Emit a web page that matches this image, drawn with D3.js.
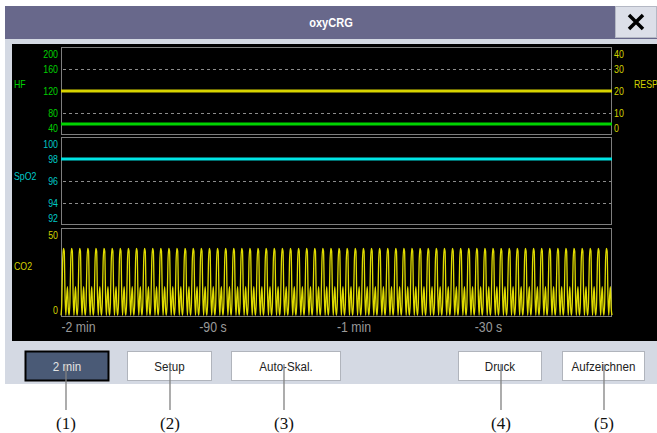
<!DOCTYPE html>
<html>
<head>
<meta charset="utf-8">
<script src="https://cdn.jsdelivr.net/npm/d3@7"></script>
<style>
  html, body { margin: 0; padding: 0; background: #fff; }
  svg { display: block; }
</style>
</head>
<body>
<svg id="oxycrg"></svg>
<script>
// trend samples (seconds before now)
const trendTimes = [-120, -90, -60, -30, 0];
const hfValues = [60, 60, 60, 60, 60];
const respValues = [20, 20, 20, 20, 20];
const spo2Values = [98, 98, 98, 98, 98];

// tick labels
const hfTicks = [40, 80, 120, 160, 200];
const respTicks = [0, 10, 20, 30, 40];
const spo2Ticks = [92, 94, 96, 98, 100];
const co2Ticks = [0, 50];
const timeTicks = [-120, -90, -60, -30];
const timeLabels = ["-2 min", "-90 s", "-1 min", "-30 s"];

// one CO2 breath (phase 0..1, mmHg), repeated for every breath in the window
const co2Phase = [0, 0.1, 0.2, 0.3, 0.4, 0.5, 0.6, 0.7, 0.8, 0.9];
const co2Breath = [1, 8, 31, 38.5, 37, 12, 1, 11, 17, 5];
const co2Breaths = 68;

const buttons = ["2 min", "Setup", "Auto-Skal.", "Druck", "Aufzeichnen"];
const callouts = ["(1)", "(2)", "(3)", "(4)", "(5)"];

const width = 657, height = 433;
const sans = '"Liberation Sans", Arial, sans-serif';
const svg = d3.select('#oxycrg')
    .attr('width', width)
    .attr('height', height)
    .attr('font-family', sans);

// the monitor font is a narrow one, squeeze the text horizontally
function condense(sel, k) {
  sel.each(function() {
    const t = d3.select(this);
    const x0 = +t.attr('x') || 0;
    t.attr('x', x0 / k).attr('transform', `scale(${k},1)`);
  });
}

// window frame
svg.append('rect').attr('x', 5).attr('y', 6).attr('width', 652).attr('height', 33).attr('fill', '#68688b');
svg.append('text').attr('x', 331).attr('y', 27).attr('text-anchor', 'middle')
    .attr('fill', '#fff').attr('font-size', 13).attr('font-weight', 'bold').text('oxyCRG')
    .call(condense, 0.85);
svg.append('rect').attr('x', 615.5).attr('y', 6.5).attr('width', 41).attr('height', 31)
    .attr('fill', '#dcdfe8').attr('stroke', '#b4b8c4');
svg.append('path').attr('d', 'M629,15 L643,29 M643,15 L629,29')
    .attr('stroke', '#000').attr('stroke-width', 3.5);
svg.append('rect').attr('x', 5).attr('y', 39).attr('width', 652).attr('height', 345).attr('fill', '#d4d9e3');
svg.append('rect').attr('x', 12).attr('y', 44).attr('width', 645).attr('height', 297).attr('fill', '#000');

const x = d3.scaleLinear().domain([-120, 0]).range([61, 612]);

const panels = [
  {top: 47, bottom: 135},
  {top: 137, bottom: 225},
  {top: 228, bottom: 317}
];
panels.forEach(p => {
  svg.append('rect').attr('x', 61.5).attr('y', p.top + 0.5).attr('width', 550).attr('height', p.bottom - p.top - 1)
      .attr('fill', 'none').attr('stroke', '#7e7e7e').attr('stroke-width', 1);
});

const yHF = d3.scaleLinear().domain([40, 200]).range([135, 47]);
const yResp = d3.scaleLinear().domain([0, 40]).range([135, 47]);
const ySpo2 = d3.scaleLinear().domain([92, 100]).range([225, 137]);
const yCo2 = d3.scaleLinear().domain([0, 50]).range([317, 228]);

function gridLines(scale, values) {
  svg.append('g').selectAll('line').data(values).join('line')
      .attr('x1', 63).attr('x2', 611)
      .attr('y1', d => Math.round(scale(d)) + 0.5).attr('y2', d => Math.round(scale(d)) + 0.5)
      .attr('stroke', '#8c8c8c').attr('stroke-dasharray', '3,3');
}
gridLines(yHF, [80, 120, 160]);
gridLines(ySpo2, [94, 96, 98]);

function sideAxis(axisFn, scale, ticks, xPos, color) {
  const g = svg.append('g').attr('transform', `translate(${xPos},0)`)
      .call(axisFn(scale).tickValues(ticks).tickSize(0).tickPadding(0).tickFormat(d3.format('d')));
  g.attr('font-family', null);
  g.select('.domain').remove();
  const [lo, hi] = d3.extent(scale.range());
  g.selectAll('.tick text')
      .attr('fill', color)
      .attr('font-size', 11)
      .attr('dy', function(d) {
        const y = scale(d);
        if (y - lo < 5) return '1.0em';
        if (hi - y < 5) return '-0.3em';
        return '0.32em';
      })
      .call(condense, 0.8);
}
sideAxis(d3.axisLeft, yHF, hfTicks, 58, '#00d000');
sideAxis(d3.axisRight, yResp, respTicks, 614, '#d2d200');
sideAxis(d3.axisLeft, ySpo2, spo2Ticks, 58, '#00c8c8');
sideAxis(d3.axisLeft, yCo2, co2Ticks, 58, '#d2d200');

// parameter labels
const paramLabels = [
  {t: 'HF', x: 14, y: 88, c: '#00d000'},
  {t: 'SpO2', x: 14, y: 180, c: '#00c8c8'},
  {t: 'CO2', x: 14, y: 270, c: '#d2d200'},
  {t: 'RESP', x: 634, y: 88, c: '#d2d200'}
];
svg.append('g').selectAll('text').data(paramLabels).join('text')
    .attr('x', d => d.x).attr('y', d => d.y).attr('fill', d => d.c)
    .attr('font-size', 11).text(d => d.t)
    .call(condense, 0.8);

// trends
const line = (yScale) => d3.line().x((d, i) => x(trendTimes[i])).y(d => yScale(d));
svg.append('path').datum(respValues).attr('d', line(yResp))
    .attr('fill', 'none').attr('stroke', '#d8d400').attr('stroke-width', 3);
svg.append('path').datum(hfValues).attr('d', line(yHF))
    .attr('fill', 'none').attr('stroke', '#00d400').attr('stroke-width', 3);
svg.append('path').datum(spo2Values).attr('d', line(ySpo2))
    .attr('fill', 'none').attr('stroke', '#00e4e4').attr('stroke-width', 3);

// CO2 wave
const period = 120 / co2Breaths;
const co2 = [];
for (let b = 0; b < co2Breaths; b++) {
  co2Breath.forEach((v, i) => co2.push({t: -120 + (b + co2Phase[i]) * period, v}));
}
co2.push({t: 0, v: co2Breath[0]});
svg.append('path').datum(co2)
    .attr('d', d3.line().x(d => x(d.t)).y(d => yCo2(d.v)).curve(d3.curveMonotoneX))
    .attr('fill', 'none').attr('stroke', '#e0dc00').attr('stroke-width', 1.3);

// time axis
const tAxis = svg.append('g').attr('transform', 'translate(0,322)')
    .call(d3.axisBottom(x).tickValues(timeTicks).tickSize(0).tickPadding(0)
      .tickFormat((d, i) => timeLabels[i]));
tAxis.attr('font-family', null);
tAxis.select('.domain').remove();
tAxis.selectAll('.tick text').attr('text-anchor', 'start').attr('fill', '#9a9a9a')
    .attr('font-size', 14).attr('dy', '0.71em')
    .call(condense, 0.88);

// buttons
const btnX = [25, 127, 231, 458, 562];
const btnW = [83, 84, 109, 83, 82];
const btn = svg.append('g').selectAll('g').data(buttons).join('g');
btn.append('rect')
    .attr('x', (d, i) => btnX[i] + 0.5).attr('y', 351.5)
    .attr('width', (d, i) => btnW[i]).attr('height', 29)
    .attr('fill', (d, i) => i === 0 ? '#4a5a76' : '#fff')
    .attr('stroke', (d, i) => i === 0 ? '#000' : '#b0b4bc')
    .attr('stroke-width', (d, i) => i === 0 ? 2 : 1);
btn.append('text')
    .attr('x', (d, i) => btnX[i] + btnW[i] / 2 + 0.5).attr('y', 371)
    .attr('text-anchor', 'middle').attr('font-size', 13.5)
    .attr('fill', (d, i) => i === 0 ? '#e4e4e4' : '#222')
    .text(d => d)
    .call(condense, 0.86);

// callouts
const calloutX = [66, 170, 284, 501, 604];
const co = svg.append('g').selectAll('g').data(callouts).join('g');
co.append('line')
    .attr('x1', (d, i) => calloutX[i]).attr('x2', (d, i) => calloutX[i])
    .attr('y1', 364).attr('y2', 410)
    .attr('stroke', '#808080').attr('stroke-width', 1.3);
co.append('text')
    .attr('x', (d, i) => calloutX[i]).attr('y', 429)
    .attr('text-anchor', 'middle').attr('font-size', 17)
    .attr('font-family', '"Liberation Serif", "Times New Roman", serif')
    .attr('fill', '#111').text(d => d);
</script>
</body>
</html>
